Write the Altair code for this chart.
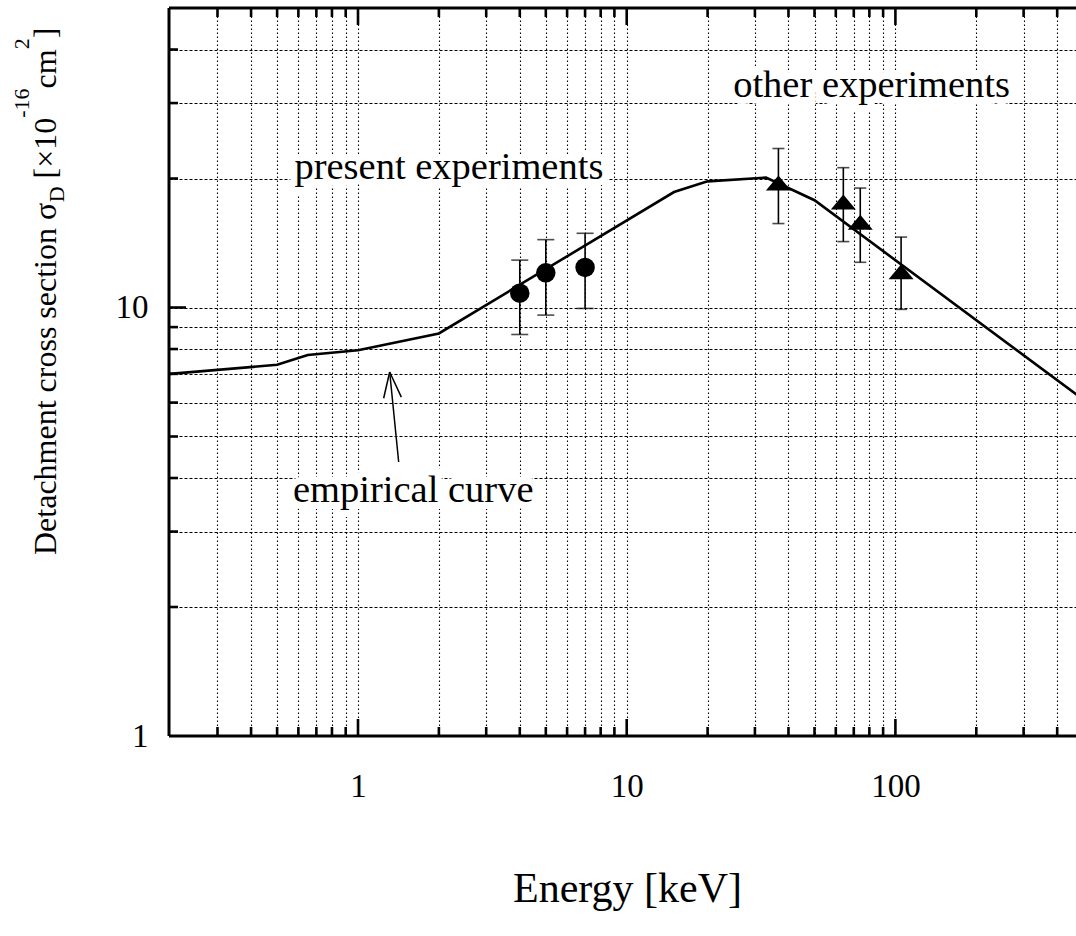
import altair as alt
import pandas as pd

# ---------------- data ----------------
curve_energy = [0.2, 0.5, 0.65, 1.0, 2.0, 15.0, 20.0, 33.0, 50.0, 500.0]
curve_sigma = [7.0, 7.35, 7.75, 7.95, 8.7, 18.6, 19.7, 20.1, 17.8, 6.1]

present_energy = [4.0, 5.0, 7.0]
present_sigma = [10.8, 12.05, 12.4]
present_hi = [12.9, 14.4, 14.9]
present_lo = [8.65, 9.6, 9.95]

other_energy = [36.7, 64.0, 74.0, 105.0]
other_sigma = [19.5, 17.6, 15.8, 12.1]
other_hi = [23.5, 21.2, 19.0, 14.6]
other_lo = [15.7, 14.25, 12.75, 9.9]

x_minor = [0.3, 0.4, 0.5, 0.6, 0.7, 0.8, 0.9, 2, 3, 4, 5, 6, 7, 8, 9,
           20, 30, 40, 50, 60, 70, 80, 90, 200, 300, 400]
x_major = [1, 10, 100]
y_minor = [2, 3, 4, 5, 6, 7, 8, 9, 20, 30, 40]
y_major = [1, 10]

arrow_x = [1.417, 1.246, 1.45]
arrow_y = [4.36, 6.14, 6.18]
arrow_tip_x = [1.312, 1.312, 1.312]
arrow_tip_y = [7.07, 7.07, 7.07]

notes_text = ["present experiments", "other experiments", "empirical curve"]
notes_x = [0.58, 24.9, 0.573]
notes_y = [20.0, 31.0, 3.52]

# ---------------- layout ----------------
X_MIN, X_MAX = 0.198, 470
Y_MIN, Y_MAX = 1, 50
W, H = 907, 728
LEFT, TOP = 169, 8
FONT = "Liberation Serif"

xs = alt.Scale(type="log", domain=[X_MIN, X_MAX])
ys = alt.Scale(type="log", domain=[Y_MIN, Y_MAX])

curve_df = pd.DataFrame({"E": curve_energy, "S": curve_sigma})
pres_df = pd.DataFrame({"E": present_energy, "S": present_sigma,
                        "hi": present_hi, "lo": present_lo})
oth_df = pd.DataFrame({"E": other_energy, "S": other_sigma,
                       "hi": other_hi, "lo": other_lo})
arrow_df = pd.DataFrame({"x": arrow_x, "y": arrow_y,
                         "x2": arrow_tip_x, "y2": arrow_tip_y})
notes_df = pd.DataFrame({"t": notes_text, "E": notes_x, "S": notes_y})

x_all = sorted(x_minor + x_major)
y_all = sorted(y_minor + y_major)

x_axis = alt.Axis(
    values=x_all, grid=True, ticks=False, domain=False,
    gridColor="#000000", gridDash=[1.5, 2.5], gridWidth=1.1, gridOpacity=1,
    labelExpr="(datum.value==1||datum.value==10||datum.value==100) ? format(datum.value,'d') : ''",
    labelFont=FONT, labelFontSize=33, labelColor="#000000", labelPadding=50,
    labelBaseline="middle", labelOverlap=False, labelFlush=False,
    title="Energy [keV]", titleFont=FONT, titleFontSize=42, titleFontWeight="normal",
    titleColor="#000000", titleY=165, titleX=458, titleBaseline="alphabetic",
)
y_axis = alt.Axis(
    values=y_all, grid=True, ticks=False, domain=False,
    gridColor="#000000", gridDash=[3, 2], gridWidth=1.1, gridOpacity=1,
    labelExpr="(datum.value==1||datum.value==10) ? format(datum.value,'d') : ''",
    labelFont=FONT, labelFontSize=33, labelColor="#000000", labelPadding=21,
    labelBaseline="middle", labelOverlap=False, labelFlush=False, title=None,
)


def xq(field="E"):
    return alt.X(f"{field}:Q", scale=xs, axis=x_axis)


def yq(field="S"):
    return alt.Y(f"{field}:Q", scale=ys, axis=y_axis)


layers = []

# annotation halos (white boxes interrupting the grid)
layers.append(alt.Chart(notes_df).mark_text(font=FONT, fontSize=38.5, align="left",
                                            baseline="alphabetic", color="white",
                                            stroke="white", strokeWidth=14).encode(
    x=xq(), y=yq(), text="t:N"))

curve = alt.Chart(curve_df).mark_line(color="black", strokeWidth=2.6, clip=True).encode(
    x=xq(), y=yq())
layers.append(curve)

for df, cap in ((pres_df, 17), (oth_df, 12)):
    layers.append(alt.Chart(df).mark_rule(color="black", strokeWidth=1.6).encode(
        x=xq(), y=yq("lo"), y2="hi:Q"))
    for fld in ("lo", "hi"):
        layers.append(alt.Chart(df).mark_tick(color="black", orient="horizontal",
                                              size=cap, thickness=1.6).encode(
            x=xq(), y=yq(fld)))

layers.append(alt.Chart(pres_df).mark_point(shape="circle", filled=True, size=380,
                                            color="black", opacity=1).encode(
    x=xq(), y=yq()))
layers.append(alt.Chart(oth_df).mark_point(shape="M0,-0.62L1,0.58L-1,0.58Z", filled=True,
                                           size=625, color="black", opacity=1).encode(
    x=xq(), y=yq()))

# arrow
layers.append(alt.Chart(arrow_df).mark_rule(color="black", strokeWidth=1.5).encode(
    x=xq("x"), y=yq("y"), x2="x2:Q", y2="y2:Q"))

# annotations
layers.append(alt.Chart(notes_df).mark_text(font=FONT, fontSize=38.5, align="left",
                                            baseline="alphabetic", color="black").encode(
    x=xq(), y=yq(), text="t:N"))

# inward ticks (bottom, top, left) and frame
tick_len = {"minor": 9, "major": 17}
for vals, kind in ((x_minor, "minor"), (x_major, "major")):
    d = pd.DataFrame({"E": vals})
    L = tick_len[kind]
    layers.append(alt.Chart(d).mark_rule(color="black", strokeWidth=2.6).encode(
        x=xq(), y=alt.value(H), y2=alt.value(H - L)))
    layers.append(alt.Chart(d).mark_rule(color="black", strokeWidth=2.6).encode(
        x=xq(), y=alt.value(0), y2=alt.value(L)))
for vals, kind in ((y_minor, "minor"), ([10], "major")):
    d = pd.DataFrame({"S": vals})
    L = tick_len[kind]
    layers.append(alt.Chart(d).mark_rule(color="black", strokeWidth=2.6).encode(
        y=yq(), x=alt.value(0), x2=alt.value(L)))

frame = pd.DataFrame({"k": [0]})
layers.append(alt.Chart(frame).mark_rule(color="black", strokeWidth=3).encode(
    x=alt.value(0), y=alt.value(0), y2=alt.value(H)))
layers.append(alt.Chart(frame).mark_rule(color="black", strokeWidth=3).encode(
    x=alt.value(0), x2=alt.value(W), y=alt.value(0)))
layers.append(alt.Chart(frame).mark_rule(color="black", strokeWidth=3).encode(
    x=alt.value(0), x2=alt.value(W), y=alt.value(H)))

# y title built from pieces (rotated), with sub/superscripts
adv = {'D': 722, 'e': 444, 't': 278, 'a': 444, 'c': 444, 'h': 500, 'm': 778, 'n': 500,
       ' ': 250, 'r': 333, 'o': 500, 's': 389, 'i': 278, 'σ': 550, '[': 333, '×': 564,
       '1': 500, '0': 500, '-': 333, '6': 500, '2': 500, ']': 333}
F, f = 32, 22
base_x = 56 - LEFT
pieces = [("Detachment cross section σ", F, 0), ("D", f, 8), (" ", F, 0), ("[×10", F, 0),
          ("-16", f, -27), ("cm", F, 0), ("2", f, -27), ("]", F, 0)]
ypos = 555 - TOP
for txt, fs, shift in pieces:
    if txt.strip():
        layers.append(alt.Chart(frame).mark_text(font=FONT, fontSize=fs, angle=270, align="left",
                                                 baseline="alphabetic", color="black").encode(
            x=alt.value(base_x + shift), y=alt.value(ypos), text=alt.value(txt)))
    ypos -= sum(adv.get(ch, 500) for ch in txt) * fs / 1000.0

chart = alt.layer(*layers).properties(
    width=W, height=H,
    autosize=alt.AutoSizeParams(type="none"),
    padding={"left": LEFT, "top": TOP, "right": 0, "bottom": 190},
    background="white",
).configure_view(stroke=None)

chart.save("out.html", embed_options={"renderer": "svg", "actions": False})
